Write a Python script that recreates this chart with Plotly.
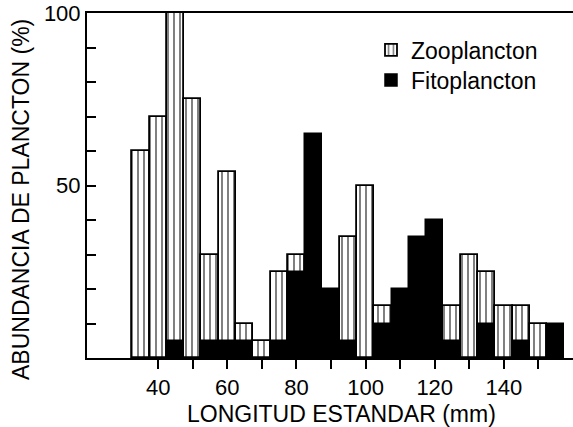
import plotly.graph_objects as go

# Bin centres (mm), 5-mm size classes
longitud = [35, 40, 45, 50, 55, 60, 65, 70, 75, 80, 85, 90, 95, 100, 105,
            110, 115, 120, 125, 130, 135, 140, 145, 150, 155]
# Zooplancton abundance (%) (None = not visible)
zooplancton = [60, 70, 100, 75, 30, 54, 10, 5, 25, 30, None, None, 35, 50, 15,
               None, None, None, 15, 30, 25, 15, 15, 10, None]
# Fitoplancton abundance (%)
fitoplancton = [None, None, 5, None, 5, 5, 5, None, 5, 25, 65, 20, 5, None, 10,
                20, 35, 40, 5, None, 10, None, 5, None, 10]

y_tickvals = list(range(0, 101, 10))
y_ticktext = ["" if v not in (50, 100) else str(v) for v in y_tickvals]
x_tickvals = list(range(40, 151, 10))
x_ticktext = [str(v) if v % 20 == 0 else "" for v in x_tickvals]

FONT = "Liberation Sans, Arial, Helvetica, sans-serif"

W, H = 573, 427
L, R, T, B = 87, 0, 13, 69
pw = W - L - R
ph = H - T - B

fig = go.Figure()
fig.add_trace(go.Bar(
    x=longitud, y=zooplancton, width=5, name="Zooplancton", legend="legend",
    marker=dict(color="white",
                line=dict(color="black", width=1.8),
                pattern=dict(shape="|", fgcolor="black", bgcolor="white",
                             size=6, solidity=0.33)),
))
fig.add_trace(go.Bar(
    x=longitud, y=fitoplancton, width=5, name="Fitoplancton", legend="legend2",
    marker=dict(color="black", line=dict(color="black", width=1.5)),
))

leg_common = dict(xanchor="left", yanchor="middle", bgcolor="rgba(0,0,0,0)",
                  font=dict(size=23), itemwidth=30)

fig.update_layout(
    width=W, height=H,
    margin=dict(l=L, r=R, t=T, b=B),
    barmode="overlay",
    bargap=0,
    paper_bgcolor="white", plot_bgcolor="white",
    font=dict(family=FONT, size=22, color="black"),
    showlegend=True,
    legend=dict(x=(371 - L) / pw, y=(H - B - 50) / ph, **leg_common),
    legend2=dict(x=(371 - L) / pw, y=(H - B - 80) / ph, **leg_common),
    xaxis=dict(range=[19.4, 160.0], showgrid=False, zeroline=False,
               showline=True, linecolor="black", linewidth=2, mirror=True,
               ticks="outside", ticklen=9, tickwidth=2, tickcolor="black",
               tickmode="array", tickvals=x_tickvals, ticktext=x_ticktext,
               tickfont=dict(size=22)),
    yaxis=dict(range=[0, 100], showgrid=False, zeroline=False,
               showline=True, linecolor="black", linewidth=2,
               ticks="inside", ticklen=9, tickwidth=2, tickcolor="black",
               tickmode="array", tickvals=y_tickvals, ticktext=y_ticktext,
               tickfont=dict(size=22)),
    annotations=[
        dict(text="ABUNDANCIA DE PLANCTON (%)", textangle=-90,
             xref="paper", yref="paper",
             x=(21 - L) / pw, y=(H - B - 200) / ph,
             xanchor="center", yanchor="middle", showarrow=False,
             font=dict(size=23)),
        dict(text="LONGITUD ESTANDAR (mm)",
             xref="paper", yref="paper",
             x=(341 - L) / pw, y=(H - B - 414) / ph,
             xanchor="center", yanchor="middle", showarrow=False,
             font=dict(size=23)),
    ],
)

fig.write_html("out.html",
               config={"displayModeBar": False},
               post_script="document.body.style.margin='0';document.body.style.overflow='hidden';")
